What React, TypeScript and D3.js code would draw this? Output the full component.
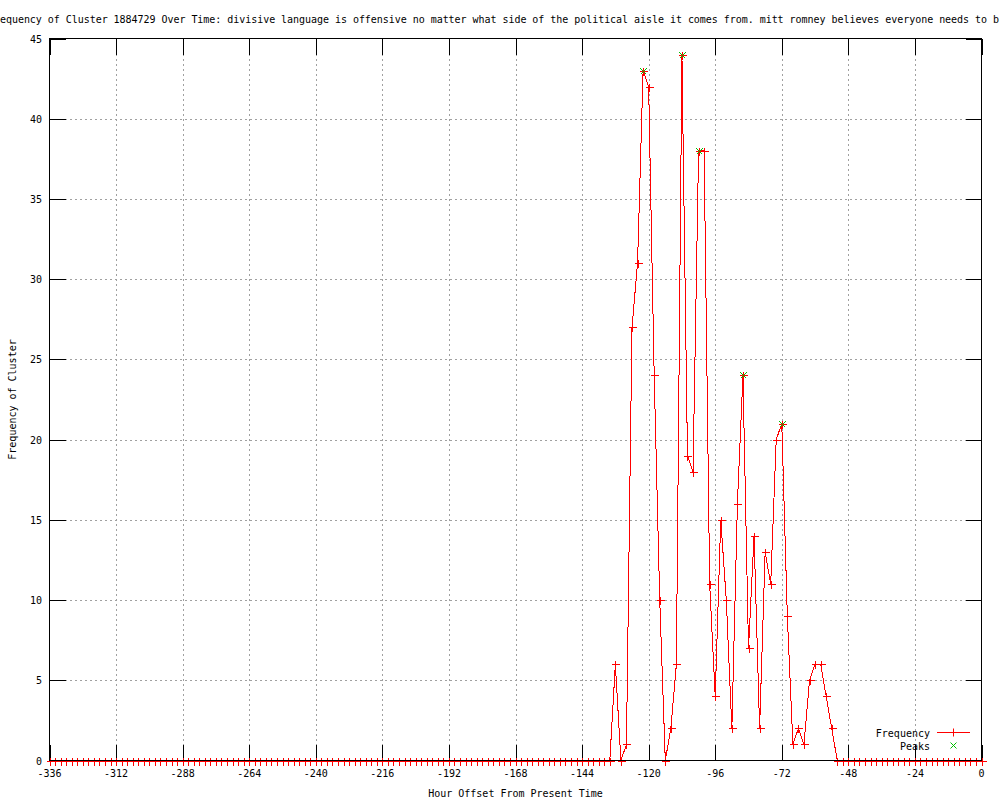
import React from 'react';
import * as d3 from 'd3';

const titleText =
  'Frequency of Cluster 1884729 Over Time: divisive language is offensive no matter what side of the political aisle it comes from. mitt romney believes everyone needs to b';
const xAxisTitle = 'Hour Offset From Present Time';
const yAxisTitle = 'Frequency of Cluster';

// hour offsets of the samples (every 2 hours, -336 .. 0)
const hours: number[] = d3.range(-336, 1, 2);

// frequency per sample
const frequency: number[] = [
  0, 0, 0, 0, 0, 0, 0, 0, 0, 0,
  0, 0, 0, 0, 0, 0, 0, 0, 0, 0,
  0, 0, 0, 0, 0, 0, 0, 0, 0, 0,
  0, 0, 0, 0, 0, 0, 0, 0, 0, 0,
  0, 0, 0, 0, 0, 0, 0, 0, 0, 0,
  0, 0, 0, 0, 0, 0, 0, 0, 0, 0,
  0, 0, 0, 0, 0, 0, 0, 0, 0, 0,
  0, 0, 0, 0, 0, 0, 0, 0, 0, 0,
  0, 0, 0, 0, 0, 0, 0, 0, 0, 0,
  0, 0, 0, 0, 0, 0, 0, 0, 0, 0,
  0, 0,
  6, 0, 1, 27, 31, 43, 42, 24, 10, 0,
  2, 6, 44, 19, 18, 38, 38, 11, 4, 15,
  10, 2, 16, 24, 7, 14, 2, 13, 11, 20,
  21, 9, 1, 2, 1, 5, 6, 6, 4, 2,
  0,
  0, 0, 0, 0, 0, 0, 0, 0, 0, 0,
  0, 0, 0, 0, 0, 0, 0, 0, 0, 0,
  0, 0, 0, 0, 0, 0,
];

const peakHours: number[] = [-122, -108, -102, -86, -72];
const peakValues: number[] = [43, 44, 38, 24, 21];

const xTicks: number[] = [-336, -312, -288, -264, -240, -216, -192, -168, -144, -120, -96, -72, -48, -24, 0];
const yTicks: number[] = [0, 5, 10, 15, 20, 25, 30, 35, 40, 45];

const FONT = '"DejaVu Sans Mono", "Liberation Mono", monospace';
const RED = '#ff0000';
const GREEN = '#00c000';
const GRID = '#a0a0a0';

export default function App() {
  const left = 49.5;
  const right = 981.5;
  const top = 38.5;
  const bottom = 760.5;
  const tick = 16;

  const x = d3.scaleLinear().domain([-336, 0]).range([left, right]);
  const y = d3.scaleLinear().domain([0, 45]).range([bottom, top]);

  const pts = hours.map((h, i) => [h, frequency[i]] as [number, number]);
  const line = d3
    .line<[number, number]>()
    .x((d) => x(d[0]))
    .y((d) => y(d[1]));

  const cross = (cx: number, cy: number, key: string | number, color: string) => (
    <path
      key={key}
      d={`M${cx - 4},${cy}H${cx + 4}M${cx},${cy - 4}V${cy + 4}`}
      stroke={color}
      strokeWidth={1}
      fill="none"
    />
  );
  const xmark = (cx: number, cy: number, key: string | number, color: string) => (
    <path
      key={key}
      d={`M${cx - 3},${cy - 3}L${cx + 3},${cy + 3}M${cx - 3},${cy + 3}L${cx + 3},${cy - 3}`}
      stroke={color}
      strokeWidth={1}
      fill="none"
    />
  );

  const legX = 953.5;
  const legY1 = 732.5;
  const legY2 = 745.5;

  return (
    <svg
      width={1000}
      height={800}
      style={{ position: 'absolute', left: 0, top: 0, background: '#fff' }}
      fontFamily={FONT}
      fontSize={10}
    >
      <rect x={0} y={0} width={1000} height={800} fill="#fff" />
      {/* grid */}
      <g stroke={GRID} strokeWidth={1} strokeDasharray="2,3" shapeRendering="crispEdges">
        {xTicks.slice(1, -1).map((t) => (
          <line key={'gx' + t} x1={Math.round(x(t)) + 0.5} x2={Math.round(x(t)) + 0.5} y1={top} y2={bottom} />
        ))}
        {yTicks.slice(1, -1).map((t) => (
          <line key={'gy' + t} x1={left} x2={right} y1={Math.round(y(t)) + 0.5} y2={Math.round(y(t)) + 0.5} />
        ))}
      </g>
      {/* ticks */}
      <g stroke="#000" strokeWidth={1} shapeRendering="crispEdges">
        {xTicks.map((t) => {
          const px = Math.round(x(t)) + 0.5;
          return (
            <g key={'tx' + t}>
              <line x1={px} x2={px} y1={bottom} y2={bottom - tick} />
              <line x1={px} x2={px} y1={top} y2={top + tick} />
            </g>
          );
        })}
        {yTicks.map((t) => {
          const py = Math.round(y(t)) + 0.5;
          return (
            <g key={'ty' + t}>
              <line x1={left} x2={left + tick} y1={py} y2={py} />
              <line x1={right} x2={right - tick} y1={py} y2={py} />
            </g>
          );
        })}
      </g>
      {/* data line */}
      <path d={line(pts) || ''} fill="none" stroke={RED} strokeWidth={1} shapeRendering="crispEdges" />
      <g shapeRendering="crispEdges">
        {pts.map((d, i) => cross(Math.round(x(d[0])) + 0.5, Math.round(y(d[1])) + 0.5, 'c' + i, RED))}
      </g>
      {/* peaks */}
      <g shapeRendering="crispEdges">
        {peakHours.map((h, i) => xmark(Math.round(x(h)) + 0.5, Math.round(y(peakValues[i])) + 0.5, 'p' + i, GREEN))}
      </g>
      {/* frame */}
      <rect x={left} y={top} width={right - left} height={bottom - top} fill="none" stroke="#000" strokeWidth={1} shapeRendering="crispEdges" />
      {/* tick labels */}
      <g fill="#000">
        {yTicks.map((t) => (
          <text key={'ly' + t} x={42} y={y(t) + 4} textAnchor="end">
            {t}
          </text>
        ))}
        {xTicks.map((t) => (
          <text key={'lx' + t} x={x(t)} y={777} textAnchor="middle">
            {t}
          </text>
        ))}
      </g>
      {/* titles */}
      <text x={-12} y={23} fill="#000" textLength={1011} lengthAdjust="spacing">
        {titleText}
      </text>
      <text x={(left + right) / 2} y={797} textAnchor="middle" fill="#000">
        {xAxisTitle}
      </text>
      <text transform={`translate(16, ${(top + bottom) / 2}) rotate(-90)`} textAnchor="middle" fill="#000">
        {yAxisTitle}
      </text>
      {/* legend */}
      <text x={930} y={737} textAnchor="end" fill="#000">Frequency</text>
      <line x1={937} x2={970} y1={legY1} y2={legY1} stroke={RED} shapeRendering="crispEdges" />
      {cross(legX, legY1, 'lc', RED)}
      <text x={930} y={750} textAnchor="end" fill="#000">Peaks</text>
      {xmark(legX, legY2, 'lp', GREEN)}
    </svg>
  );
}
